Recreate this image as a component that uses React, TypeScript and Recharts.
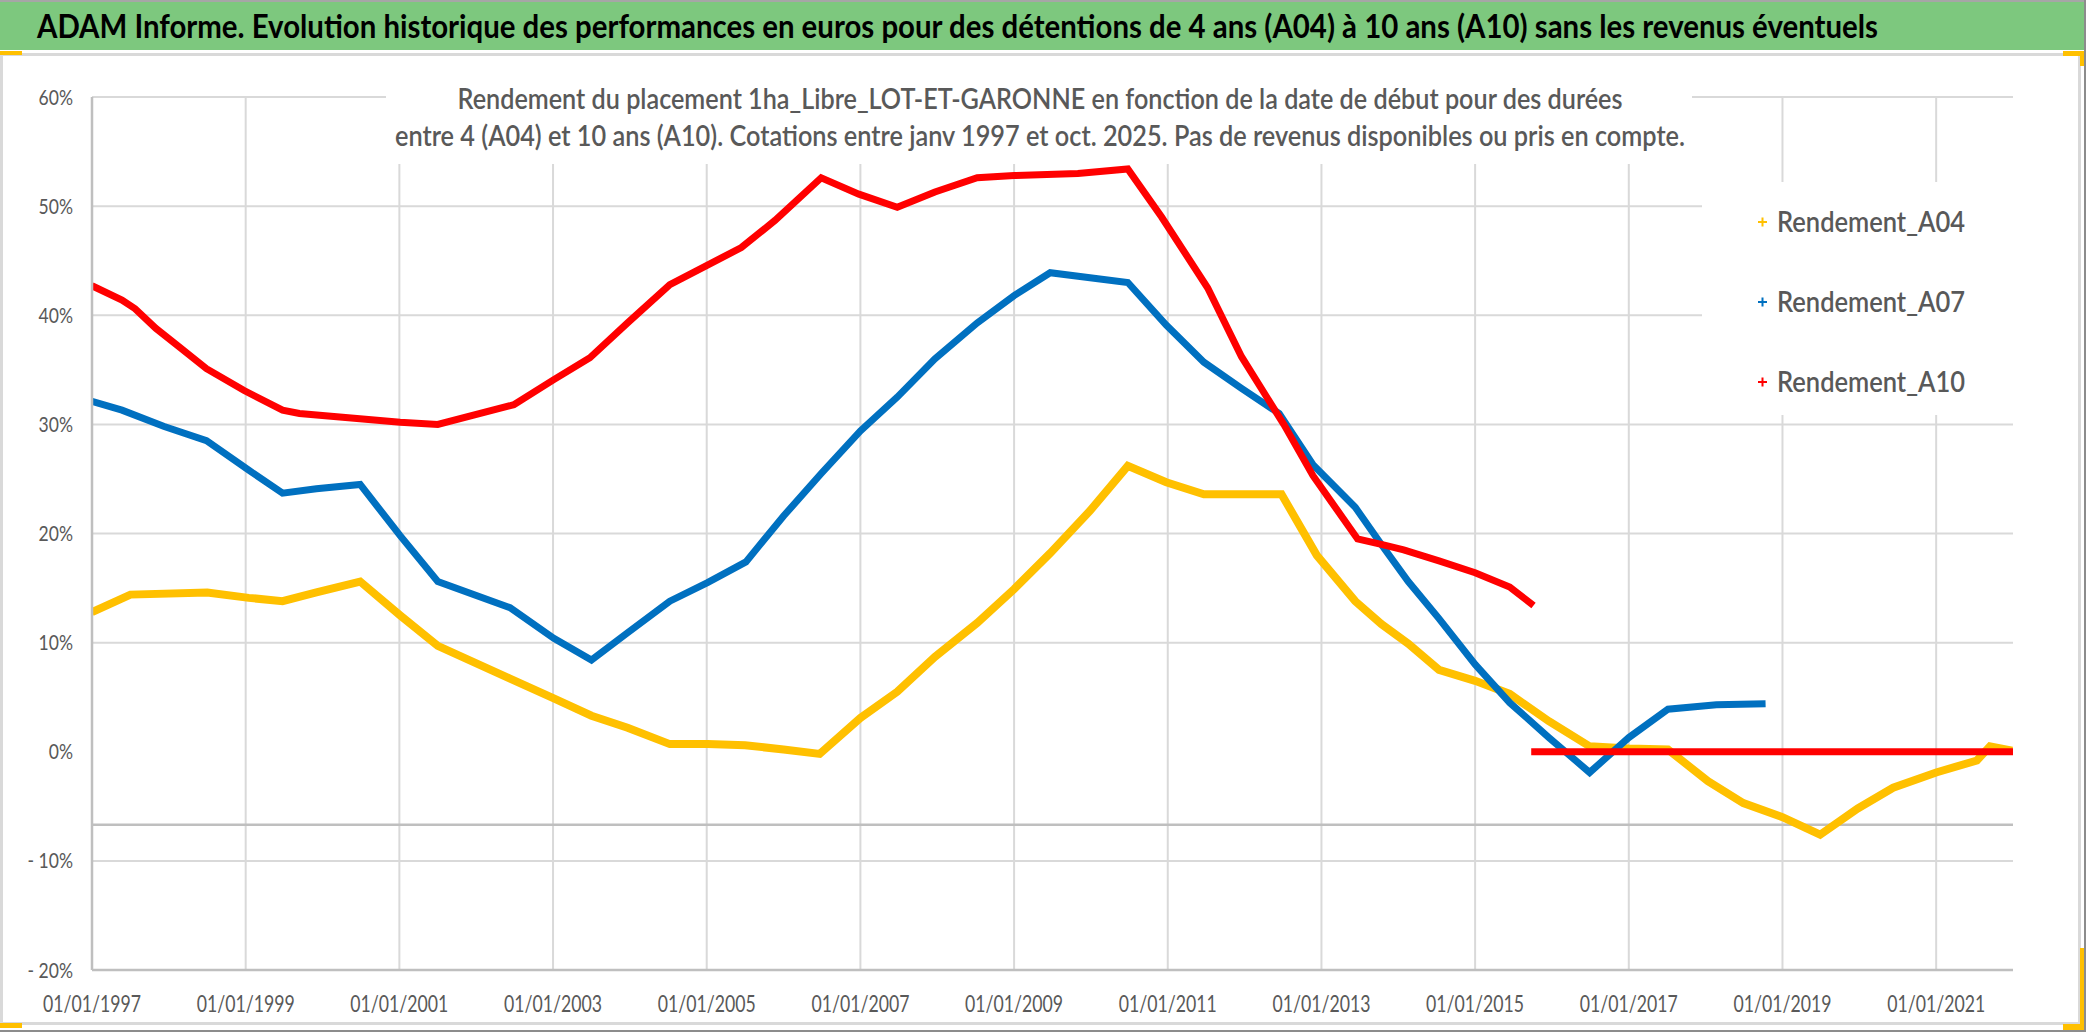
import React from 'react';
import { LineChart, Line, XAxis, YAxis, CartesianGrid, Legend } from 'recharts';

const W = 2086;
const H = 1032;

const xTickYears = [1997, 1999, 2001, 2003, 2005, 2007, 2009, 2011, 2013, 2015, 2017, 2019, 2021];
const yTicks = [-20, -10, 0, 10, 20, 30, 40, 50, 60];
const gridValues = [60, 50, 40, 30, 20, 10, -10];
const crossLineValue = [-6.7];

const seriesNames = ['Rendement_A04', 'Rendement_A07', 'Rendement_A10'];
const seriesColors = ['#FFC000', '#0070C0', '#FF0000'];

const a04Years = [1997.0, 1997.5, 1998.5, 1999.04, 1999.48, 1999.92, 2000.49, 2001.01, 2001.5, 2002.44, 2003.01, 2003.5, 2003.97, 2004.52, 2005.01, 2005.5, 2006.0, 2006.47, 2007.0, 2007.48, 2007.97, 2008.52, 2009.0, 2009.47, 2009.99, 2010.48, 2010.98, 2011.47, 2012.02, 2012.48, 2012.94, 2013.44, 2013.78, 2014.13, 2014.53, 2015.0, 2015.45, 2015.96, 2016.49, 2017.0, 2017.51, 2018.03, 2018.49, 2019.0, 2019.49, 2019.98, 2020.44, 2021.0, 2021.53, 2021.7, 2021.99];
const a04Values = [12.8, 14.4, 14.6, 14.1, 13.8, 14.6, 15.6, 12.5, 9.7, 6.7, 4.9, 3.3, 2.2, 0.7, 0.7, 0.6, 0.2, -0.2, 3.1, 5.5, 8.7, 11.8, 14.9, 18.2, 22.1, 26.2, 24.7, 23.6, 23.6, 23.6, 18.0, 13.8, 11.7, 9.9, 7.5, 6.5, 5.3, 2.8, 0.5, 0.3, 0.2, -2.7, -4.7, -6.0, -7.6, -5.2, -3.3, -1.9, -0.8, 0.5, 0.1];

const a07Years = [1997.0, 1997.39, 1997.94, 1998.49, 1999.04, 1999.48, 1999.92, 2000.49, 2001.01, 2001.5, 2002.44, 2003.01, 2003.5, 2003.97, 2004.52, 2005.01, 2005.51, 2006.0, 2006.49, 2007.0, 2007.48, 2007.97, 2008.52, 2009.0, 2009.47, 2010.48, 2010.98, 2011.47, 2011.96, 2012.45, 2012.89, 2013.44, 2013.78, 2014.13, 2014.53, 2015.0, 2015.45, 2015.96, 2016.49, 2017.0, 2017.51, 2018.14, 2018.78];
const a07Values = [32.1, 31.3, 29.8, 28.5, 25.8, 23.7, 24.1, 24.5, 19.8, 15.6, 13.2, 10.4, 8.4, 10.9, 13.8, 15.5, 17.4, 21.6, 25.5, 29.4, 32.5, 36.0, 39.3, 41.8, 43.9, 43.0, 39.1, 35.7, 33.3, 31.0, 26.3, 22.4, 19.0, 15.6, 12.2, 8.0, 4.5, 1.3, -1.9, 1.3, 3.9, 4.3, 4.4];

const a10Years = [1997.0, 1997.39, 1997.56, 1997.83, 1998.1, 1998.49, 1998.98, 1999.48, 1999.7, 2001.01, 2001.5, 2002.49, 2003.01, 2003.48, 2003.97, 2004.52, 2005.01, 2005.45, 2005.89, 2006.49, 2006.98, 2007.48, 2007.97, 2008.52, 2009.0, 2009.83, 2010.48, 2010.92, 2011.52, 2011.96, 2012.51, 2012.89, 2013.47, 2013.78, 2014.07, 2014.53, 2015.0, 2015.45, 2015.76];
const a10Values = [42.7, 41.4, 40.6, 38.8, 37.3, 35.1, 33.1, 31.3, 31.0, 30.2, 30.0, 31.8, 34.1, 36.1, 39.3, 42.8, 44.6, 46.2, 48.7, 52.6, 51.1, 49.9, 51.3, 52.6, 52.8, 53.0, 53.4, 49.0, 42.5, 36.2, 30.0, 25.3, 19.5, 19.0, 18.5, 17.5, 16.4, 15.1, 13.4];

const a10ZeroYears = [2015.73, 2022.0];
const a10ZeroValues = [0, 0];

const titleText = 'ADAM Informe. Evolution historique des performances en euros pour des détentions de 4 ans (A04) à 10 ans (A10) sans les revenus éventuels';
const subtitleLines = [
  'Rendement du placement 1ha_Libre_LOT-ET-GARONNE en fonction de la date de début pour des durées',
  'entre 4 (A04) et 10 ans (A10). Cotations entre janv 1997 et oct. 2025. Pas de revenus disponibles ou pris en compte.',
];

const toPoints = (xs: number[], ys: number[]) => xs.map((x, i) => ({ x, y: ys[i] }));

const a04Data = toPoints(a04Years, a04Values);
const a07Data = toPoints(a07Years, a07Values);
const a10Data = toPoints(a10Years, a10Values);
const a10ZeroData = toPoints(a10ZeroYears, a10ZeroValues);

const FONT = 'Lato, "Open Sans", "DejaVu Sans", sans-serif';

function yLabel(v: number): string {
  if (v === 0) return '0%';
  if (v < 0) return `- ${Math.abs(v)}%`;
  return `${v}%`;
}

function yLabelWidth(s: string): number {
  let w = 0;
  for (const c of s) {
    if (/\d/.test(c)) w += 10.2;
    else if (c === '%') w += 14;
    else if (c === '-') w += 6;
    else if (c === ' ') w += 5;
  }
  return w;
}

const XTick = (props: any) => {
  const { x, y, payload } = props;
  return (
    <text
      x={x}
      y={y + 42}
      textAnchor="middle"
      fontSize={23}
      fill="#595959"
      fontFamily={FONT}
      textLength={98}
      lengthAdjust="spacingAndGlyphs"
    >
      {`01/01/${payload.value}`}
    </text>
  );
};

const YTick = (props: any) => {
  const { x, y, payload } = props;
  const s = yLabel(payload.value);
  return (
    <text
      x={x}
      y={y}
      dy="0.36em"
      textAnchor="end"
      fontSize={21}
      fill="#595959"
      fontFamily={FONT}
      textLength={yLabelWidth(s)}
      lengthAdjust="spacingAndGlyphs"
    >
      {s}
    </text>
  );
};

const LegendContent = (props: any) => {
  const items = (props.payload || []).filter((p: any) => p.type !== 'none');
  return (
    <svg width={313} height={233} style={{ display: 'block' }}>
      {items.map((it: any, i: number) => {
        const cy = 40 + i * 80;
        return (
          <g key={it.value}>
            <path d={`M56,${cy} h9 M60.5,${cy - 4.5} v9`} stroke={it.color} strokeWidth={2} />
            <text
              x={75}
              y={cy}
              dy="0.36em"
              fontSize={28}
              fontWeight={600}
              fill="#595959"
              fontFamily={FONT}
              textLength={188}
              lengthAdjust="spacingAndGlyphs"
            >
              {it.value}
            </text>
          </g>
        );
      })}
    </svg>
  );
};

const Frame = () => (
  <svg
    width={W}
    height={H}
    style={{ position: 'absolute', left: 0, top: 0, pointerEvents: 'none', zIndex: 5 }}
  >
    <rect x={0} y={0} width={W} height={2} fill="#A6A6A6" />
    <rect x={0} y={2} width={W} height={48} fill="#7DC87E" />
    <text
      x={37}
      y={38}
      fontSize={32}
      fontWeight={700}
      fill="#000"
      fontFamily={FONT}
      textLength={1841}
      lengthAdjust="spacingAndGlyphs"
    >
      {titleText}
    </text>
    <rect x={1.5} y={54.5} width={2078} height={969} fill="none" stroke="#D9D9D9" strokeWidth={3} />
    <rect x={0} y={51} width={22} height={4} fill="#FFC000" />
    <rect x={2063} y={51} width={22} height={5} fill="#FFC000" />
    <rect x={2080} y={51} width={5} height={15} fill="#FFC000" />
    <rect x={2080} y={948} width={5} height={84} fill="#FFC000" />
    <rect x={2063} y={1024} width={22} height={8} fill="#FFC000" />
    <rect x={0} y={1023} width={22} height={5} fill="#FFC000" />
    <rect x={2084} y={0} width={2} height={H} fill="#8C8C8C" />
    <rect x={0} y={1030} width={W} height={2} fill="#8C8C8C" />
    <rect x={386} y={62} width={1306} height={102} fill="#FFFFFF" />
    <text
      x={1040}
      y={109}
      textAnchor="middle"
      fontSize={28}
      fontWeight={600}
      fill="#595959"
      fontFamily={FONT}
      textLength={1165}
      lengthAdjust="spacingAndGlyphs"
    >
      {subtitleLines[0]}
    </text>
    <text
      x={1040}
      y={146}
      textAnchor="middle"
      fontSize={28}
      fontWeight={600}
      fill="#595959"
      fontFamily={FONT}
      textLength={1290}
      lengthAdjust="spacingAndGlyphs"
    >
      {subtitleLines[1]}
    </text>
  </svg>
);

export default function App() {
  return (
    <div
      style={{
        position: 'absolute',
        left: 0,
        top: 0,
        width: W,
        height: H,
        background: '#fff',
        overflow: 'hidden',
        fontFamily: FONT,
      }}
    >
      <LineChart width={W} height={H} margin={{ top: 97, right: 73, bottom: 22, left: 0 }}>
        <CartesianGrid
          stroke="#D9D9D9"
          strokeWidth={2}
          horizontalValues={gridValues}
          verticalValues={xTickYears}
        />
        <CartesianGrid stroke="#BFBFBF" strokeWidth={2.5} vertical={false} horizontalValues={crossLineValue} />
        <XAxis
          type="number"
          dataKey="x"
          domain={[1997, 2022]}
          ticks={xTickYears}
          allowDataOverflow
          tickLine={false}
          tickSize={0}
          tickMargin={0}
          height={40}
          axisLine={{ stroke: '#BFBFBF', strokeWidth: 2.5 }}
          tick={<XTick />}
          interval={0}
        />
        <YAxis
          type="number"
          domain={[-20, 60]}
          ticks={yTicks}
          allowDataOverflow
          width={92}
          tickLine={false}
          tickSize={0}
          tickMargin={19}
          axisLine={{ stroke: '#BFBFBF', strokeWidth: 2.5 }}
          tick={<YTick />}
          interval={0}
        />
        <Legend
          layout="vertical"
          align="center"
          verticalAlign="middle"
          content={<LegendContent />}
          wrapperStyle={{ left: 1702, top: 182, width: 313, height: 233, backgroundColor: '#fff' }}
        />
        <Line
          data={a04Data}
          dataKey="y"
          name={seriesNames[0]}
          stroke={seriesColors[0]}
          strokeWidth={8}
          dot={false}
          type="linear"
          isAnimationActive={false}
        />
        <Line
          data={a07Data}
          dataKey="y"
          name={seriesNames[1]}
          stroke={seriesColors[1]}
          strokeWidth={7}
          dot={false}
          type="linear"
          isAnimationActive={false}
        />
        <Line
          data={a10Data}
          dataKey="y"
          name={seriesNames[2]}
          stroke={seriesColors[2]}
          strokeWidth={7}
          dot={false}
          type="linear"
          isAnimationActive={false}
        />
        <Line
          data={a10ZeroData}
          dataKey="y"
          name={seriesNames[2] + '_0'}
          stroke={seriesColors[2]}
          strokeWidth={7}
          dot={false}
          type="linear"
          legendType="none"
          isAnimationActive={false}
        />
      </LineChart>
      <Frame />
    </div>
  );
}
